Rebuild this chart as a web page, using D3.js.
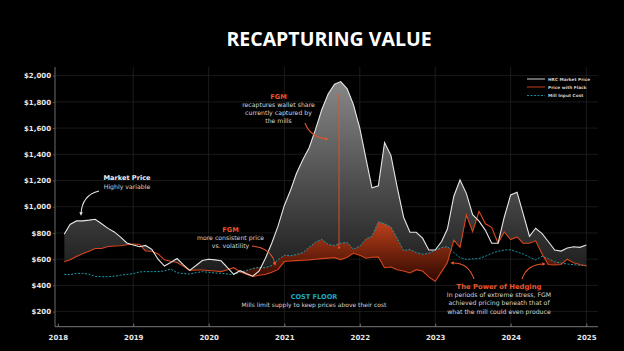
<!DOCTYPE html>
<html><head><meta charset="utf-8">
<script src="https://cdn.jsdelivr.net/npm/d3@7/dist/d3.min.js"></script>
<style>html,body{margin:0;padding:0;background:#000;}svg{display:block;}</style>
</head><body>
<script>
// ---- data ----
const startYear = 2018, startMonth = 1; // Feb 2018 (0-based month index)
const marketPrice = [790,865,892,892,898,905,870,835,808,768,724,708,695,705,675,600,548,575,605,556,515,552,590,600,595,588,535,485,512,490,470,510,605,722,850,1010,1130,1255,1360,1450,1590,1740,1860,1935,1955,1900,1780,1600,1360,1145,1160,1490,1390,1150,920,805,805,760,670,670,735,830,1080,1204,1100,940,890,820,722,722,920,1090,1110,950,775,836,795,735,670,662,685,695,690,708];
const priceWithFlack = [580,595,620,642,660,682,682,697,700,703,710,716,712,663,660,640,595,584,575,545,515,518,517,514,510,505,520,535,505,485,468,478,483,500,520,582,586,589,592,595,600,604,608,612,597,615,645,630,607,615,617,535,540,520,510,495,520,510,465,432,505,575,745,690,937,810,965,870,843,722,808,750,770,722,722,740,640,560,556,560,600,572,560,550];
const millInputCost = [485,482,492,492,485,468,466,466,470,478,484,490,503,505,505,505,510,525,497,490,487,497,505,500,494,493,487,482,502,513,530,538,535,552,595,630,626,635,650,690,730,752,712,705,722,728,675,700,755,775,885,870,845,760,665,674,650,638,645,670,688,696,650,612,598,602,605,622,645,660,670,672,655,640,615,595,622,605,580,570,563,558,553,550];
const yTicks = [200,400,600,800,1000,1200,1400,1600,1800,2000];
const xYears = [2018,2019,2020,2021,2022,2023,2024,2025];
const seriesNames = ["HRC Market Price","Price with Flack","Mill Input Cost"];

const W = 624, H = 351;
const svg = d3.select("body").append("svg").attr("width", W).attr("height", H).style("background","#000");
const FONT = "DejaVu Sans, Verdana, sans-serif";

const months = marketPrice.map((_, i) => new Date(startYear, startMonth + i, 1));
const rows = months.map((d, i) => ({d, m: marketPrice[i], f: priceWithFlack[i], c: millInputCost[i]}));

const x = d3.scaleTime().domain([new Date(2018,0,1), new Date(2025,0,1)]).range([57.8, 586.3]);
const y = d3.scaleLinear().domain([85, 2066]).range([326.7, 67]);
const L = 55, R = 598, T = 67, B = 326.7;

// title
svg.append("text").attr("x", 329).attr("y", 46).attr("text-anchor","middle")
  .attr("fill","#fff").attr("font-family","Open Sans, sans-serif").attr("font-weight",700)
  .attr("font-size",19.5).text("RECAPTURING VALUE");

// grid
svg.append("g").selectAll("line").data(yTicks).join("line")
  .attr("x1", L).attr("x2", R).attr("y1", d=>y(d)).attr("y2", d=>y(d))
  .attr("stroke","#1f1f1f").attr("stroke-width",0.8);
svg.append("g").selectAll("line").data(xYears.slice(1)).join("line")
  .attr("x1", d=>x(new Date(d,0,1))).attr("x2", d=>x(new Date(d,0,1)))
  .attr("y1", T).attr("y2", B).attr("stroke","#222").attr("stroke-width",0.8);

// gradients
const defs = svg.append("defs");
const gg = defs.append("linearGradient").attr("id","gGray").attr("gradientUnits","userSpaceOnUse")
  .attr("x1",0).attr("x2",0).attr("y1",y(2000)).attr("y2",y(400));
gg.append("stop").attr("offset","0%").attr("stop-color","#8a8a8a");
gg.append("stop").attr("offset","100%").attr("stop-color","#151515");
const gr = defs.append("linearGradient").attr("id","gRed").attr("gradientUnits","userSpaceOnUse")
  .attr("x1",0).attr("x2",0).attr("y1",y(900)).attr("y2",y(430));
gr.append("stop").attr("offset","0%").attr("stop-color","#c2421c");
gr.append("stop").attr("offset","100%").attr("stop-color","#2e0800");

// clip: region above flack line
defs.append("clipPath").attr("id","aboveF").append("path")
  .attr("d", d3.area().x(d=>x(d.d)).y0(d=>y(d.f)).y1(0)(rows));

svg.append("path").attr("clip-path","url(#aboveF)")
  .attr("d", d3.area().x(d=>x(d.d)).y0(d=>y(d.f)).y1(d=>y(d.m))(rows))
  .attr("fill","url(#gGray)");
svg.append("path").attr("clip-path","url(#aboveF)")
  .attr("d", d3.area().x(d=>x(d.d)).y0(d=>y(d.f)).y1(d=>y(d.c))(rows))
  .attr("fill","url(#gRed)");

// axes
const yAxis = svg.append("g").attr("transform",`translate(${L},0)`)
  .call(d3.axisLeft(y).tickValues(yTicks).tickSize(2).tickPadding(2).tickFormat(d=>"$"+d3.format(",")(d)));
yAxis.select(".domain").remove();
yAxis.selectAll("line").attr("stroke","#555");
yAxis.selectAll("text").attr("fill","#e6e6e6").attr("font-family",FONT).attr("font-weight",700).attr("font-size",7);
svg.append("line").attr("x1",L).attr("x2",L).attr("y1",T).attr("y2",B).attr("stroke","#5a5a5a").attr("stroke-width",1.2);

const xAxis = svg.append("g").attr("transform",`translate(0,${B})`)
  .call(d3.axisBottom(x).tickValues(xYears.map(v=>new Date(v,0,1))).tickSize(-3).tickPadding(8).tickFormat(d3.timeFormat("%Y")));
xAxis.select(".domain").remove();
xAxis.selectAll("line").attr("stroke","#777");
xAxis.selectAll("text").attr("fill","#e6e6e6").attr("font-family",FONT).attr("font-weight",700).attr("font-size",7);
svg.append("line").attr("x1",L).attr("x2",R).attr("y1",B).attr("y2",B).attr("stroke","#777").attr("stroke-width",1);

// lines
const ORANGE = "#d8461e", TEAL = "#1a9cad", WHITE = "#e6e6e6";
const line = key => d3.line().x(d=>x(d.d)).y(d=>y(d[key]));
svg.append("path").attr("d", line("c")(rows)).attr("fill","none").attr("stroke",TEAL).attr("stroke-width",1).attr("stroke-dasharray","2,1.5");
svg.append("path").attr("d", line("f")(rows)).attr("fill","none").attr("stroke",ORANGE).attr("stroke-width",1.1);
svg.append("path").attr("d", line("m")(rows)).attr("fill","none").attr("stroke",WHITE).attr("stroke-width",1.1);

// legend
const legColors = [WHITE, ORANGE, TEAL];
const legY = [79, 87, 95.5];
const lg = svg.append("g");
seriesNames.forEach((n,i)=>{
  lg.append("line").attr("x1",527).attr("x2",545).attr("y1",legY[i]).attr("y2",legY[i])
    .attr("stroke",legColors[i]).attr("stroke-width",0.9).attr("stroke-dasharray", i===2?"2,1.5":null);
  lg.append("text").attr("x",548).attr("y",legY[i]+1.5).attr("fill","#ccc").attr("font-family",FONT)
    .attr("font-weight",700).attr("font-size",4.3).text(n);
});

// markers
function marker(id, color){
  defs.append("marker").attr("id",id).attr("viewBox","0 0 10 10").attr("refX",5).attr("refY",5)
    .attr("markerWidth",3.2).attr("markerHeight",3.2).attr("orient","auto-start-reverse")
    .append("path").attr("d","M0,0 L10,5 L0,10 z").attr("fill",color);
}
marker("mW", WHITE); marker("mO", "#e0552b");

function note(lines, cx, y0, lh, opts){
  lines.forEach((t,i)=>{
    svg.append("text").attr("x",cx).attr("y",y0+i*lh).attr("text-anchor","middle")
      .attr("font-family",FONT).attr("font-size", i===0? opts.s0 : opts.s)
      .attr("font-weight", i===0?700:400).attr("fill", i===0? opts.c0 : "#d6d6d6").text(t);
  });
}
const NOTE_O = "#e8552a";
note(["Market Price","Highly variable"], 127, 180, 8.7, {c0:"#f0f0f0", s0:6.6, s:6.2});
note(["FGM","more consistent price","vs. volatility"], 230.5, 231.5, 8.3, {c0:NOTE_O, s0:6.6, s:6.2});
note(["FGM","recaptures wallet share","currently captured by","the mills"], 278.5, 98.5, 8.3, {c0:NOTE_O, s0:6.6, s:6.2});
note(["COST FLOOR","Mills limit supply to keep prices above their cost"], 314, 299, 8.3, {c0:"#1aa9c2", s0:6.6, s:6.0});
note(["The Power of Hedging","In periods of extreme stress, FGM","achieved pricing beneath that of","what the mill could even produce"], 499, 289, 8.2, {c0:NOTE_O, s0:6.8, s:6.2});

// arrows
const arrows = [
  {d:"M99,191 Q82,195 81,214", c:WHITE, m:"mW"},
  {d:"M252,246 Q272,248 275,264", c:"#e0552b", m:"mO"},
  {d:"M305,123 Q310,137 327,139", c:"#e0552b", m:"mO"},
  {d:"M474,279 Q468,262 452,263", c:"#e0552b", m:"mO"},
  {d:"M522,279 Q527,264 544,264", c:"#e0552b", m:"mO"}
];
arrows.forEach(a=>{
  svg.append("path").attr("d",a.d).attr("fill","none").attr("stroke",a.c).attr("stroke-width",1.1)
    .attr("marker-end",`url(#${a.m})`);
});
svg.append("line").attr("x1",339).attr("x2",339).attr("y1",95).attr("y2",248)
  .attr("stroke","#e0552b").attr("stroke-width",0.9)
  .attr("marker-start","url(#mO)").attr("marker-end","url(#mO)");
</script>
</body></html>
